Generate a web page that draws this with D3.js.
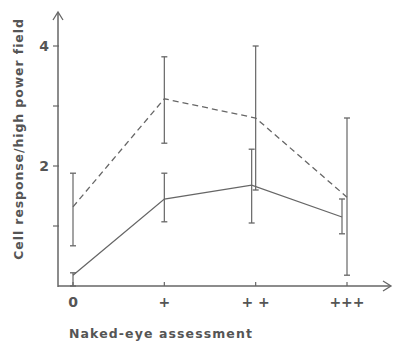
<!DOCTYPE html>
<html>
<head>
<meta charset="utf-8">
<script src="https://cdn.jsdelivr.net/npm/d3@7"></script>
<style>
  html, body { margin: 0; padding: 0; background: #fff; }
  svg { display: block; }
  text { font-family: "DejaVu Sans", "Liberation Sans", sans-serif; fill: #555; }
</style>
</head>
<body>
<svg id="chart" width="393" height="346"></svg>
<script>
// Categories of the naked-eye grading
const categories = ["0", "+", "++", "+++"];
const categoryLabels = ["0", "+", "+ +", "+++"];

// Dashed series: mean with upper / lower limits
const dashedMean  = [1.32, 3.12, 2.80, 1.48];
const dashedUpper = [1.88, 3.82, 4.00, 2.80];
const dashedLower = [0.67, 2.38, 1.60, 0.18];

// Solid series: mean with upper / lower limits
const solidMean  = [0.18, 1.45, 1.68, 1.15];
const solidUpper = [0.22, 1.88, 2.28, 1.45];
const solidLower = [0.00, 1.07, 1.05, 0.87];

// Y axis ticks (only some are labelled)
const yTicks = [1, 2, 3, 4];
const yTickLabels = ["", "2", "", "4"];

const svg = d3.select("#chart");
const ink = "#666";

const x = d3.scalePoint().domain(categories).range([73, 347]);
const y = d3.scaleLinear().domain([0, 4]).range([286, 46]);

// small horizontal nudge so the two series' bars don't overlap
const solidNudge = [0, 0, -4, -5];

const axisX0 = 58, axisY0 = 286;

// axes with arrowheads
const g = svg.append("g");
g.append("line").attr("x1", axisX0).attr("y1", axisY0 + 1).attr("x2", axisX0).attr("y2", 13)
  .attr("stroke", ink).attr("stroke-width", 1.5);
g.append("path").attr("d", `M${axisX0 - 5},20 L${axisX0},12 L${axisX0 + 5},20`)
  .attr("fill", "none").attr("stroke", ink).attr("stroke-width", 1.3);
g.append("line").attr("x1", axisX0).attr("y1", axisY0).attr("x2", 390).attr("y2", axisY0)
  .attr("stroke", ink).attr("stroke-width", 1.5);
g.append("path").attr("d", `M383,${axisY0 - 5} L391,${axisY0} L383,${axisY0 + 5}`)
  .attr("fill", "none").attr("stroke", ink).attr("stroke-width", 1.3);

// y ticks
yTicks.forEach((t, i) => {
  g.append("line").attr("x1", axisX0 - 5).attr("x2", axisX0 + 1)
    .attr("y1", y(t)).attr("y2", y(t)).attr("stroke", ink).attr("stroke-width", 1.2);
  if (yTickLabels[i]) {
    g.append("text").attr("x", axisX0 - 9).attr("y", y(t)).attr("dy", "0.36em")
      .attr("text-anchor", "end").attr("font-size", 14).attr("font-weight", "bold")
      .text(yTickLabels[i]);
  }
});

// x ticks and labels
categories.forEach((c, i) => {
  g.append("line").attr("x1", x(c)).attr("x2", x(c))
    .attr("y1", axisY0 - 4).attr("y2", axisY0).attr("stroke", ink).attr("stroke-width", 1.2);
  g.append("text").attr("x", x(c)).attr("y", 307)
    .attr("text-anchor", "middle").attr("font-size", 14).attr("font-weight", "bold")
    .text(categoryLabels[i]);
});

// axis titles
g.append("text").attr("x", 69).attr("y", 338)
  .attr("font-size", 12.5).attr("font-weight", "bold").attr("letter-spacing", 1.1)
  .text("Naked-eye assessment");
g.append("text").attr("transform", "translate(23,139) rotate(-90)")
  .attr("text-anchor", "middle").attr("font-size", 12.5).attr("font-weight", "bold")
  .attr("letter-spacing", 0.9)
  .text("Cell response/high power field");

function drawSeries(mean, upper, lower, nudge, dash) {
  const px = (i) => x(categories[i]) + nudge[i];
  const line = d3.line().x((d, i) => px(i)).y(d => y(d));
  svg.append("path").datum(mean).attr("d", line)
    .attr("fill", "none").attr("stroke", ink).attr("stroke-width", 1.3)
    .attr("stroke-dasharray", dash);
  mean.forEach((m, i) => {
    const cx = px(i);
    svg.append("line").attr("x1", cx).attr("x2", cx)
      .attr("y1", y(upper[i])).attr("y2", y(lower[i]))
      .attr("stroke", ink).attr("stroke-width", 1.2);
    [upper[i], lower[i]].forEach(v => {
      svg.append("line").attr("x1", cx - 3).attr("x2", cx + 3)
        .attr("y1", y(v)).attr("y2", y(v)).attr("stroke", ink).attr("stroke-width", 1.3);
    });
  });
}

drawSeries(dashedMean, dashedUpper, dashedLower, [0, 0, 0, 0], "6,4");
drawSeries(solidMean, solidUpper, solidLower, solidNudge, null);
</script>
</body>
</html>
